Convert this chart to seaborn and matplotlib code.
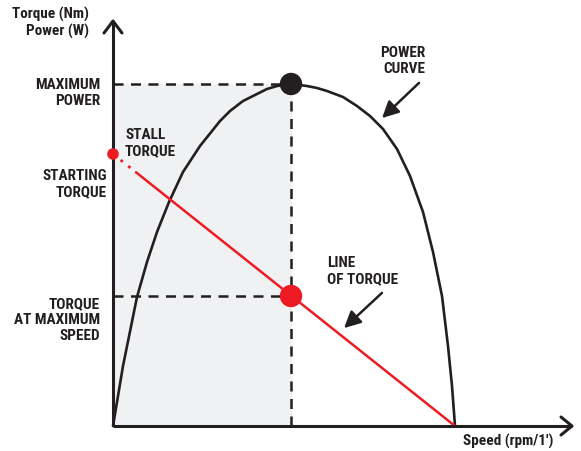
import pandas as pd
import matplotlib
matplotlib.use("Agg")
import matplotlib.pyplot as plt
from matplotlib import font_manager
import seaborn as sns

# Power curve (speed, power), origin at the axis corner
speed = [0, 5, 10, 24, 34, 44, 56, 70, 87, 107, 117, 130, 154, 164, 178,
         194, 204, 214, 230, 244, 257, 270, 284, 297, 310, 320, 329, 335,
         339, 342]
power = [0, 30, 60, 129, 164, 194, 224, 254, 280, 305, 315, 325, 337, 340, 342,
         340, 338, 335, 329, 320, 310, 297, 277, 250, 214, 174, 130, 80,
         40, 0]

# Torque line
torque_speed = [0, 342]
torque_value = [272, 0]
stall_speed = 23  # dotted part ends here

max_power_speed = 178
max_power = 342
torque_at_max = 130

sns.set_style("white")
names = {f.name for f in font_manager.fontManager.ttflist}
fam = next((n for n in ["Roboto Condensed", "Liberation Sans Narrow", "Roboto"] if n in names), "DejaVu Sans")
plt.rcParams["font.family"] = [fam, "DejaVu Sans"]
fs = 11 if fam != "DejaVu Sans" else 9.2
txt = dict(fontweight="bold", color="#231f20", fontsize=fs)

fig = plt.figure(figsize=(5.81, 4.52), dpi=100)
ax = fig.add_axes([0, 0, 1, 1])
ax.set_xlim(-113, 468)
ax.set_ylim(-25, 427)
ax.axis("off")

# shaded area under max power
ax.fill_between([0, max_power_speed], 0, max_power, color="#f0f1f3", zorder=0)

# dashed guides
dash = dict(ls=(0, (4, 3)), color="#231f20", lw=1.8)
ax.plot([0, max_power_speed], [max_power, max_power], **dash)
ax.plot([max_power_speed, max_power_speed], [0, max_power], **dash)
ax.plot([0, max_power_speed], [torque_at_max, torque_at_max], **dash)

# power curve
df = pd.DataFrame({"speed": speed, "power": power})
sns.lineplot(data=df, x="speed", y="power", ax=ax, color="#231f20", lw=1.9, sort=False, zorder=3)

# torque line: dotted near the stall point, solid afterwards
t_stall = torque_value[0] * (1 - stall_speed / torque_speed[1])
ax.plot([0, stall_speed], [torque_value[0], t_stall], ls=(0, (1, 2.5)), color="#ed1c24", lw=2, zorder=3)
ax.plot([stall_speed, torque_speed[1]], [t_stall, torque_value[1]], color="#ed1c24", lw=1.8, zorder=3)

sns.scatterplot(x=[max_power_speed], y=[max_power], ax=ax, s=260, color="#231f20", edgecolor="none", zorder=5)
sns.scatterplot(x=[max_power_speed], y=[torque_at_max], ax=ax, s=260, color="#ed1c24", edgecolor="none", zorder=5)
sns.scatterplot(x=[0], y=[torque_value[0]], ax=ax, s=70, color="#ed1c24", edgecolor="none", zorder=5)

# axes with open arrow heads
ax.plot([0, 0], [0, 404], color="#231f20", lw=2.2, zorder=4, solid_capstyle="butt")
ax.plot([0, 459], [0, 0], color="#231f20", lw=2.2, zorder=4, solid_capstyle="butt")
ax.plot([-9, 0, 9], [393, 405, 393], color="#231f20", lw=2.2, zorder=4)
ax.plot([448, 459, 448], [9, 0, -9], color="#231f20", lw=2.2, zorder=4)

# labels
ax.text(-24, 404, "Torque (Nm)\nPower (W)", ha="right", va="center", linespacing=1.1, **txt)
ax.text(-13, 334, "MAXIMUM\nPOWER", ha="right", va="center", linespacing=1.2, **txt)
ax.text(12, 284, "STALL\nTORQUE", ha="left", va="center", linespacing=1.2, **txt)
ax.text(-6, 243, "STARTING\nTORQUE", ha="right", va="center", linespacing=1.2, **txt)
ax.text(-13, 107, "TORQUE\nAT MAXIMUM\nSPEED", ha="right", va="center", linespacing=1.2, **txt)
ax.text(312, 366, "POWER\nCURVE", ha="right", va="center", linespacing=1.2, **txt)
ax.text(214, 156, "LINE\nOF TORQUE", ha="left", va="center", linespacing=1.2, **txt)
ax.text(350, -14, "Speed (rpm/1\u2032)", ha="left", va="center", **txt)

arrow = dict(arrowstyle="-|>,head_length=1.0,head_width=0.5", color="#231f20", lw=1.8)
ax.annotate("", xy=(267, 306), xytext=(308, 345), arrowprops=arrow)
ax.annotate("", xy=(229, 96), xytext=(271, 135), arrowprops=arrow)

fig.savefig("out.png", dpi=100)
